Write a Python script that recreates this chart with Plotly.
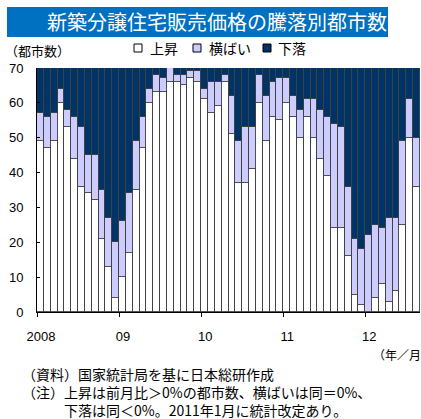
import plotly.graph_objects as go

# Monthly city counts, Jan 2008 - Aug 2012 (70 cities in total each month)
months = [f"{y}-{m:02d}" for y in range(2008, 2013) for m in range(1, 13)][:56]

rise = [49, 47, 49, 60, 53, 44, 36, 34, 32, 21, 13, 4,
        10, 17, 35, 47, 60, 63, 63, 66, 66, 65, 67, 66,
        61, 57, 59, 66, 51, 37, 37, 41, 60, 49, 56, 55,
        60, 56, 50, 56, 50, 44, 39, 24, 24, 16, 5, 2,
        0, 4, 8, 3, 6, 25, 50, 36]
flat = [8, 9, 8, 4, 5, 12, 17, 11, 13, 14, 14, 16,
        16, 17, 14, 9, 4, 5, 4, 4, 2, 3, 2, 3,
        3, 9, 7, 2, 11, 12, 16, 12, 8, 13, 10, 12,
        7, 6, 8, 5, 11, 14, 17, 30, 29, 20, 16, 16,
        22, 21, 16, 24, 21, 24, 11, 14]
fall = [13, 14, 13, 6, 12, 14, 17, 25, 25, 35, 43, 50,
        44, 36, 21, 14, 6, 2, 3, 0, 2, 2, 1, 1,
        6, 4, 4, 2, 8, 21, 17, 17, 2, 8, 4, 3,
        3, 8, 12, 9, 9, 12, 14, 16, 17, 34, 49, 52,
        48, 45, 46, 43, 43, 21, 9, 20]

year_labels = ["2008", "09", "10", "11", "12"]
series_names = ["上昇", "横ばい", "下落"]
series_colors = ["#FFFFFF", "#CCCCFF", "#003366"]

W, H = 421, 419
L, R, T, B = 37, 1, 68, 107
PW, PH = W - L - R, H - T - B

def px(x):
    return (x - L) / PW

def py(y):
    return (H - B - y) / PH

JP = "Noto Sans CJK JP"
NUM = "Liberation Sans, Arial, Noto Sans CJK JP"

fig = go.Figure()
xs = list(range(len(months)))
for name, vals, col in zip(series_names, [rise, flat, fall], series_colors):
    fig.add_trace(go.Bar(
        x=xs, y=vals, name=name, width=1,
        marker=dict(color=col, line=dict(color="#404040", width=0.9)),
        customdata=months, showlegend=False,
    ))

shapes = []
annotations = []

# title banner
shapes.append(dict(type="rect", xref="paper", yref="paper",
                   x0=px(7), x1=px(388), y0=py(37), y1=py(7),
                   fillcolor="#0070C0", line=dict(width=0), layer="below"))
annotations.append(dict(text="新築分譲住宅販売価格の騰落別都市数",
                        xref="paper", yref="paper", x=px(217), y=py(22),
                        xanchor="center", yanchor="middle", showarrow=False,
                        font=dict(family=JP, size=20, color="white")))

# legend
leg_sq = [134, 193, 263]
leg_tx = [148, 207, 276]
for sx, tx, name, col in zip(leg_sq, leg_tx, series_names, series_colors):
    shapes.append(dict(type="rect", xref="paper", yref="paper",
                       x0=px(sx), x1=px(sx + 8), y0=py(52), y1=py(44),
                       fillcolor=col, line=dict(color="#000000", width=1)))
    annotations.append(dict(text=name, xref="paper", yref="paper",
                            x=px(tx), y=py(48), xanchor="left", yanchor="middle",
                            showarrow=False,
                            font=dict(family=JP, size=14, color="black")))

# axis captions
annotations.append(dict(text="（都市数）", xref="paper", yref="paper",
                        x=px(3), y=py(62), xanchor="left", yanchor="bottom",
                        showarrow=False, font=dict(family=JP, size=13, color="black")))
annotations.append(dict(text="（年／月）", xref="paper", yref="paper",
                        x=px(371), y=py(354), xanchor="left", yanchor="middle",
                        showarrow=False, font=dict(family=JP, size=12, color="black")))

# source and notes
notes = ("（資料）国家統計局を基に日本総研作成<br>"
         "（注）上昇は前月比＞0%の都市数、横ばいは同＝0%、<br>"
         "　　　下落は同＜0%。2011年1月に統計改定あり。")
annotations.append(dict(text=notes, xref="paper", yref="paper",
                        x=px(20), y=py(392), xanchor="left", yanchor="middle",
                        align="left", showarrow=False,
                        font=dict(family=JP, size=14, color="black")))

fig.update_layout(
    width=W, height=H,
    margin=dict(l=L, r=R, t=T, b=B),
    paper_bgcolor="white", plot_bgcolor="white",
    barmode="stack", bargap=0,
    shapes=shapes, annotations=annotations,
    xaxis=dict(
        range=[-0.5, len(months) - 0.5],
        tickvals=[-0.5, 11.5, 23.5, 35.5, 47.5],
        ticktext=year_labels,
        ticks="outside", ticklen=4, tickcolor="black",
        ticklabelshift=4, ticklabelstandoff=8,
        showline=True, linecolor="black", linewidth=1,
        showgrid=False, zeroline=False,
        tickfont=dict(family=NUM, size=13, color="black"),
    ),
    yaxis=dict(
        range=[0, 70], dtick=10,
        ticks="inside", ticklen=3, tickcolor="black",
        ticklabelstandoff=10,
        showline=True, linecolor="black", linewidth=1,
        showgrid=False, zeroline=False,
        tickfont=dict(family=NUM, size=13, color="black"),
    ),
)

fig.write_html("out.html")
